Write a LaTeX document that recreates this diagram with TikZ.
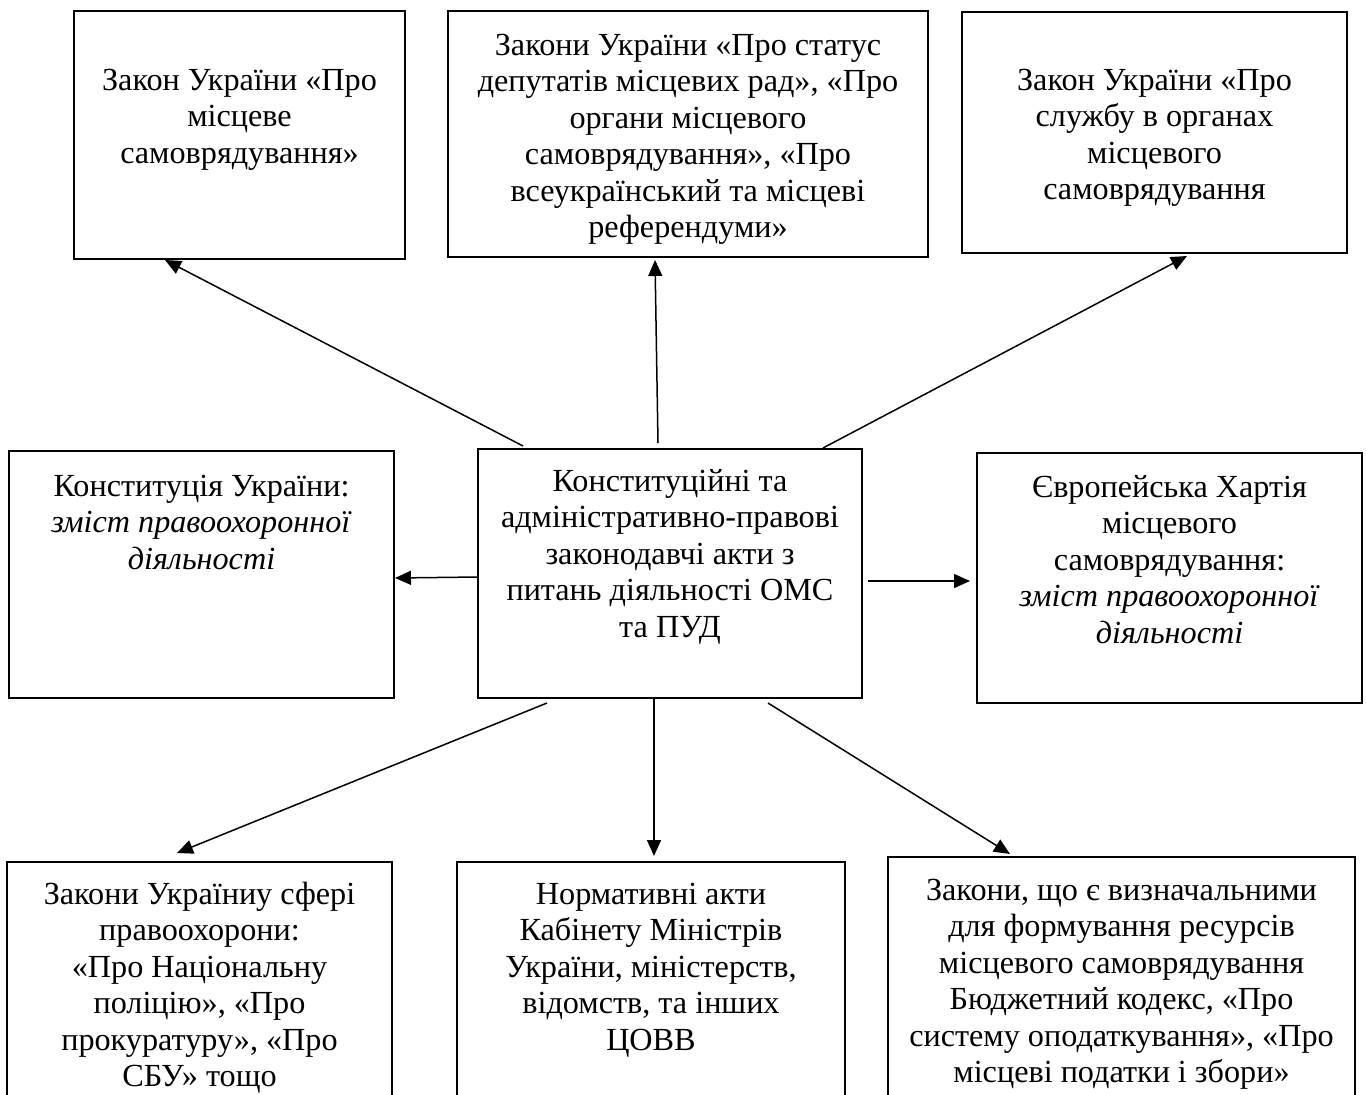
\documentclass[tikz,border=0pt]{standalone}
\usepackage{fontspec}
\setmainfont{Liberation Serif}
\usetikzlibrary{arrows.meta}
\begin{document}
\begin{tikzpicture}[x=1pt,y=-1pt,
  box/.style={draw, line width=1.5pt, inner sep=0pt, outer sep=0pt, anchor=north west},
  txt/.style={align=center, inner sep=0pt, anchor=north,
    font=\fontsize{32.2pt}{36.5pt}\selectfont},
  conn/.style={line width=1.5pt, -{Triangle[length=16pt,width=14pt]}}]
\clip (0,0) rectangle (1366,1095);

% frames
\node[box, minimum width=331pt, minimum height=248pt] (b1) at (74,11) {};
\node[box, minimum width=480pt, minimum height=246pt] (b2) at (448,11) {};
\node[box, minimum width=385pt, minimum height=241pt] (b3) at (962,12) {};
\node[box, minimum width=385pt, minimum height=247pt] (b4) at (9,451) {};
\node[box, minimum width=384pt, minimum height=249pt] (c)  at (478,449) {};
\node[box, minimum width=385pt, minimum height=250pt] (b5) at (977,453) {};
\node[box, minimum width=385pt, minimum height=260pt] (b6) at (7,862) {};
\node[box, minimum width=388pt, minimum height=260pt] (b7) at (457,862) {};
\node[box, minimum width=467pt, minimum height=265pt] (b8) at (888,857) {};

% texts
\node[txt] (t1) at ([yshift=-53.5pt]b1.north) {\strut Закон України «Про\\ місцеве\\ самоврядування»};
\node[txt] (t2) at ([yshift=-18.5pt]b2.north) {\strut Закони України «Про статус\\ депутатів місцевих рад», «Про\\ органи місцевого\\ самоврядування», «Про\\ всеукраїнський та місцеві\\ референдуми»};
\node[txt] (t3) at ([yshift=-52.5pt]b3.north) {\strut Закон України «Про\\ службу в органах\\ місцевого\\ самоврядування};
\node[txt] (t4) at ([yshift=-19.5pt]b4.north) {\strut Конституція України:\\ \textit{зміст правоохоронної}\\ \textit{діяльності}};
\node[txt] (tc) at ([yshift=-16.5pt]c.north) {\strut Конституційні та\\ адміністративно-правові\\ законодавчі акти з\\ питань діяльності ОМС\\ та ПУД};
\node[txt] (t5) at ([yshift=-18.5pt]b5.north) {\strut Європейська Хартія\\ місцевого\\ самоврядування:\\ \textit{зміст правоохоронної}\\ \textit{діяльності}};
\node[txt] (t6) at ([yshift=-16.5pt]b6.north) {\strut Закони Україниу сфері\\ правоохорони:\\ «Про Національну\\ поліцію», «Про\\ прокуратуру», «Про\\ СБУ» тощо};
\node[txt] (t7) at ([yshift=-16.5pt]b7.north) {\strut Нормативні акти\\ Кабінету Міністрів\\ України, міністерств,\\ відомств, та інших\\ ЦОВВ};
\node[txt] (t8) at ([yshift=-17.5pt]b8.north) {\strut Закони, що є визначальними\\ для формування ресурсів\\ місцевого самоврядування\\ Бюджетний кодекс, «Про\\ систему оподаткування», «Про\\ місцеві податки і збори»};

% connector ends
\coordinate (c-1) at (523,446);  \coordinate (b1-in) at (165,260);
\coordinate (c-2) at (658,443);  \coordinate (b2-in) at (655,260);
\coordinate (c-3) at (823,448);  \coordinate (b3-in) at (1187,256);
\coordinate (c-4) at (478,577);  \coordinate (b4-in) at (395,578);
\coordinate (c-5) at (868,581);  \coordinate (b5-in) at (970,581);
\coordinate (c-6) at (547,703);  \coordinate (b6-in) at (177,853);
\coordinate (c-7) at (654,698);  \coordinate (b7-in) at (654,856);
\coordinate (c-8) at (768,703);  \coordinate (b8-in) at (1010,854);

\foreach \i in {1,...,8}
  \draw[conn] (c-\i) -- (b\i-in);
\end{tikzpicture}
\end{document}
